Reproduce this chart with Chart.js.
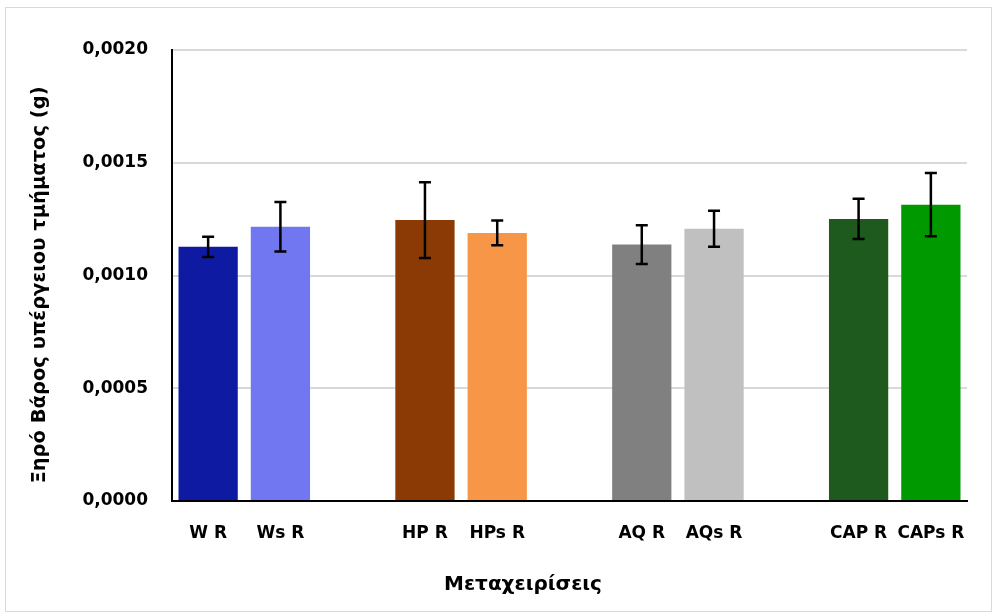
<!DOCTYPE html>
<html>
<head>
<meta charset="utf-8">
<script src="https://cdn.jsdelivr.net/npm/chart.js@4/dist/chart.umd.min.js"></script>
<style>
  body { margin: 0; background: #fff; }
  #wrap { position: relative; width: 996px; height: 616px; }
  #frame { position: absolute; left: 5px; top: 7px; width: 985px; height: 603px; border: 1px solid #d9d9d9; pointer-events: none; }
</style>
</head>
<body>
<div id="wrap">
  <canvas id="chart" width="996" height="616"></canvas>
  <div id="frame"></div>
</div>
<script>
// treatments, mean dry weight (g) and error bars
const categories = ['W R', 'Ws R', 'HP R', 'HPs R', 'AQ R', 'AQs R', 'CAP R', 'CAPs R'];
const means = [0.001127, 0.001216, 0.001246, 0.001189, 0.001137, 0.001207, 0.001251, 0.001314];
const errors = [0.000045, 0.000110, 0.000168, 0.000055, 0.000086, 0.000080, 0.000089, 0.000140];
const colors = ['#0f1aa2', '#7077f0', '#8b3a05', '#f79646', '#808080', '#c0c0c0', '#1e5a1e', '#009900'];
const yTicks = [0, 0.0005, 0.001, 0.0015, 0.002];

const yTitle = 'Ξηρό Βάρος υπέργειου τμήματος (g)';
const xTitle = 'Μεταχειρίσεις';

/* ===== build slots: an empty slot between each pair ===== */
const labels = [], values = [], errs = [], fills = [];
categories.forEach((c, i) => {
  if (i > 0 && i % 2 === 0) {
    labels.push(''); values.push(null); errs.push(null); fills.push('transparent');
  }
  labels.push(c); values.push(means[i]); errs.push(errors[i]); fills.push(colors[i]);
});

const FONT = 'DejaVu Sans';

const errorBars = {
  id: 'errorBars',
  afterDatasetsDraw(chart) {
    const ctx = chart.ctx;
    const meta = chart.getDatasetMeta(0);
    const y = chart.scales.y;
    ctx.save();
    ctx.strokeStyle = '#000';
    ctx.lineWidth = 2.5;
    meta.data.forEach((bar, i) => {
      if (values[i] == null) return;
      const top = y.getPixelForValue(values[i] + errs[i]);
      const bot = y.getPixelForValue(values[i] - errs[i]);
      const x = bar.x;
      ctx.beginPath();
      ctx.moveTo(x, top); ctx.lineTo(x, bot);
      ctx.moveTo(x - 6, top); ctx.lineTo(x + 6, top);
      ctx.moveTo(x - 6, bot); ctx.lineTo(x + 6, bot);
      ctx.stroke();
    });
    ctx.restore();
  }
};

// axis titles are not centred on the plot area in the original
const axisTitles = {
  id: 'axisTitles',
  afterDraw(chart) {
    const ctx = chart.ctx;
    ctx.save();
    ctx.fillStyle = '#000';
    ctx.textAlign = 'center';
    ctx.textBaseline = 'middle';
    ctx.font = 'bold 20px "' + FONT + '"';
    ctx.fillText(xTitle, 523, 585);
    ctx.translate(40, 285);
    ctx.rotate(-Math.PI / 2);
    ctx.font = 'bold 19.5px "' + FONT + '"';
    ctx.fillText(yTitle, 0, 0);
    ctx.restore();
  }
};

new Chart(document.getElementById('chart').getContext('2d'), {
  type: 'bar',
  data: {
    labels: labels,
    datasets: [{
      data: values,
      backgroundColor: fills,
      categoryPercentage: 1,
      barPercentage: 0.82
    }]
  },
  options: {
    responsive: false,
    animation: false,
    layout: { padding: { left: 0, right: 29, top: 50, bottom: 0 } },
    plugins: { legend: { display: false }, tooltip: { enabled: false } },
    scales: {
      x: {
        grid: { display: false, drawTicks: false },
        border: { color: '#000', width: 2 },
        ticks: { color: '#000', font: { family: FONT, size: 17, weight: 'bold' }, padding: 22, maxRotation: 0, autoSkip: false },
        afterFit: axis => { axis.height = 115; }
      },
      y: {
        min: 0,
        max: 0.002,
        afterBuildTicks: axis => { axis.ticks = yTicks.map(v => ({ value: v })); },
        grid: { color: '#d9d9d9', lineWidth: 2, drawTicks: false },
        border: { color: '#000', width: 2 },
        ticks: {
          color: '#000',
          font: { family: FONT, size: 17, weight: 'bold' },
          padding: 24,
          callback: v => v.toFixed(4).replace('.', ',')
        },
        afterFit: axis => { axis.width = 172; }
      }
    }
  },
  plugins: [errorBars, axisTitles]
});
</script>
</body>
</html>
